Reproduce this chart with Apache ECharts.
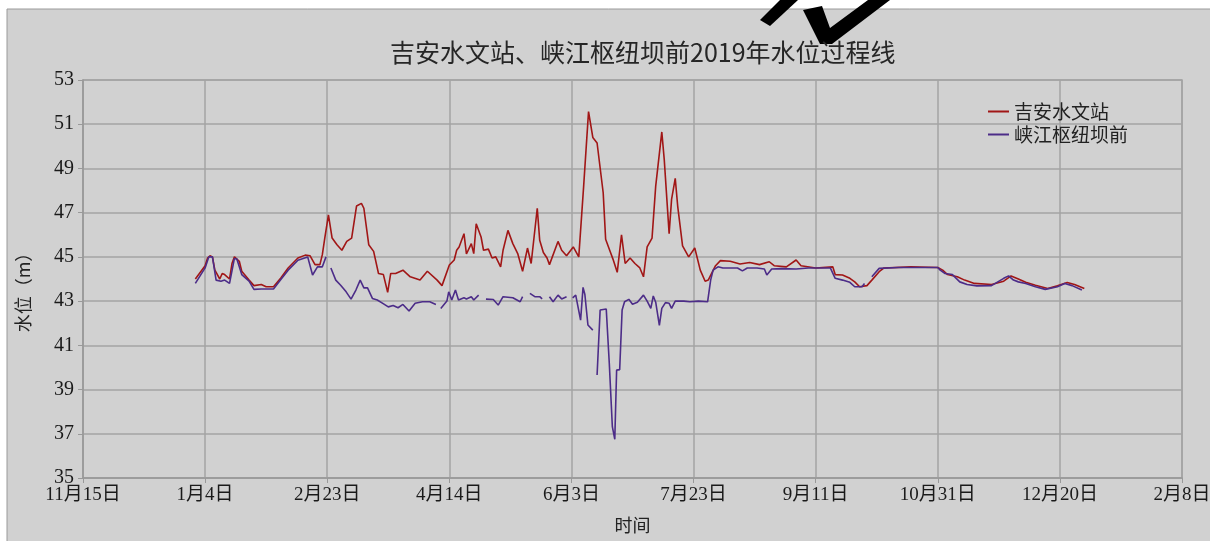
<!DOCTYPE html>
<html>
<head>
<meta charset="utf-8">
<title>水位过程线</title>
<script src="https://cdn.jsdelivr.net/npm/echarts@6/dist/echarts.min.js"></script>
<style>
  html, body { margin: 0; padding: 0; background: #d1d1d1; }
  #sw { width: 1210px; height: 541px; }
</style>
</head>
<body>
<div id="sw"></div>
<script>
// 吉安水文站 (dates, water level m)
const jiDates = ['2018-12-31','2019-01-04','2019-01-05','2019-01-06','2019-01-07','2019-01-08','2019-01-10','2019-01-11','2019-01-12','2019-01-14',
  '2019-01-15','2019-01-16','2019-01-18','2019-01-19','2019-01-22','2019-01-24','2019-01-27','2019-01-29','2019-02-01','2019-02-04',
  '2019-02-07','2019-02-11','2019-02-14','2019-02-16','2019-02-18','2019-02-20','2019-02-21','2019-02-22','2019-02-23T12','2019-02-25',
  '2019-02-27','2019-03-01','2019-03-03','2019-03-05','2019-03-07','2019-03-09','2019-03-10','2019-03-12','2019-03-14','2019-03-16',
  '2019-03-18','2019-03-19T18','2019-03-21','2019-03-23','2019-03-26','2019-03-29','2019-04-02','2019-04-05','2019-04-09','2019-04-11',
  '2019-04-14','2019-04-16','2019-04-17','2019-04-18','2019-04-20','2019-04-21','2019-04-23','2019-04-24','2019-04-25','2019-04-27',
  '2019-04-28','2019-04-30','2019-05-01T12','2019-05-03','2019-05-05','2019-05-06','2019-05-08','2019-05-10','2019-05-12','2019-05-14',
  '2019-05-16','2019-05-17T12','2019-05-20','2019-05-21','2019-05-22T12','2019-05-24','2019-05-25','2019-05-28T12','2019-05-30','2019-06-01',
  '2019-06-03T18','2019-06-06','2019-06-08','2019-06-10','2019-06-11T18','2019-06-13T12','2019-06-16','2019-06-17','2019-06-19','2019-06-20',
  '2019-06-21T18','2019-06-23T12','2019-06-25','2019-06-27','2019-06-29','2019-07-01','2019-07-02T12','2019-07-04','2019-07-06','2019-07-07T12',
  '2019-07-10','2019-07-11','2019-07-13','2019-07-14','2019-07-15T12','2019-07-16T12','2019-07-18T12','2019-07-21','2019-07-23T12','2019-07-25T18',
  '2019-07-27T18','2019-07-29','2019-08-01','2019-08-03','2019-08-07','2019-08-11','2019-08-15','2019-08-19','2019-08-23','2019-08-25',
  '2019-08-30','2019-09-03','2019-09-05','2019-09-11','2019-09-18','2019-09-19','2019-09-22','2019-09-25','2019-09-27','2019-09-29',
  '2019-10-02','2019-10-04','2019-10-07','2019-10-09','2019-10-20','2019-10-31','2019-11-02','2019-11-04','2019-11-08','2019-11-11',
  '2019-11-15','2019-11-22','2019-11-27','2019-11-30','2019-12-03','2019-12-06','2019-12-10','2019-12-15','2019-12-19','2019-12-23',
  '2019-12-26','2019-12-30']
const jiValues = [44.0,44.6,44.95,45.05,45.0,44.4,44.0,44.25,44.2,44.0,
  44.7,45.0,44.8,44.35,43.95,43.7,43.75,43.65,43.65,44.05,
  44.5,44.95,45.08,45.05,44.65,44.65,45.1,45.85,46.9,45.85,
  45.55,45.3,45.7,45.85,47.3,47.42,47.2,45.55,45.25,44.25,
  44.2,43.4,44.25,44.25,44.4,44.1,43.95,44.35,43.95,43.7,
  44.63,44.86,45.3,45.45,46.05,45.13,45.6,45.15,46.5,45.9,
  45.3,45.35,44.95,45.0,44.55,45.3,46.2,45.6,45.15,44.35,
  45.4,44.7,47.2,45.75,45.2,44.95,44.65,45.7,45.3,45.05,
  45.45,45.0,48.2,51.57,50.4,50.15,47.9,45.8,45.2,44.9,
  44.3,46.0,44.7,44.95,44.7,44.5,44.1,45.45,45.85,48.2,
  50.65,49.4,46.05,47.6,48.55,47.3,45.5,45.0,45.4,44.4,
  43.9,43.95,44.6,44.83,44.8,44.68,44.75,44.65,44.78,44.6,
  44.55,44.86,44.6,44.5,44.55,44.2,44.18,44.03,43.87,43.65,
  43.7,43.95,44.33,44.5,44.55,44.52,44.4,44.2,44.1,43.95,
  43.8,43.75,43.9,44.14,44.0,43.85,43.72,43.57,43.69,43.84,
  43.75,43.57]

// 峡江枢纽坝前 (null = missing record)
const xjDates = ['2018-12-31','2019-01-04','2019-01-05T12','2019-01-07','2019-01-08T12','2019-01-10T12','2019-01-12','2019-01-14','2019-01-16','2019-01-17',
  '2019-01-19','2019-01-22','2019-01-24','2019-01-27','2019-02-01','2019-02-04','2019-02-07','2019-02-11','2019-02-15','2019-02-17',
  '2019-02-19','2019-02-21','2019-02-22T12','2019-02-23T12','2019-02-24T12','2019-02-26T12','2019-02-28T12','2019-03-02T18','2019-03-04T18','2019-03-06T18',
  '2019-03-08T12','2019-03-10','2019-03-11T12','2019-03-13T12','2019-03-15T12','2019-03-17T18','2019-03-20','2019-03-22','2019-03-24','2019-03-26',
  '2019-03-28T12','2019-03-31','2019-04-03','2019-04-06','2019-04-08T12','2019-04-09T12','2019-04-10T12','2019-04-13','2019-04-13T18','2019-04-15',
  '2019-04-16T12','2019-04-17T18','2019-04-20','2019-04-21','2019-04-23','2019-04-24','2019-04-26','2019-04-27T12','2019-04-29','2019-05-02',
  '2019-05-04','2019-05-06','2019-05-10','2019-05-13','2019-05-14','2019-05-15T12','2019-05-17','2019-05-19','2019-05-21','2019-05-22',
  '2019-05-23T12','2019-05-25','2019-05-26T12','2019-05-28T12','2019-05-30','2019-06-01','2019-06-02','2019-06-03T12','2019-06-04T18','2019-06-06T18',
  '2019-06-07T18','2019-06-08T12','2019-06-09T18','2019-06-11T18','2019-06-12T12','2019-06-13T12','2019-06-14T18','2019-06-17T06','2019-06-18T12','2019-06-19T18',
  '2019-06-20T18','2019-06-21T12','2019-06-22T18','2019-06-23T18','2019-06-24T18','2019-06-26T12','2019-06-28','2019-06-30','2019-07-02T12','2019-07-04',
  '2019-07-05T12','2019-07-06T12','2019-07-07T12','2019-07-09','2019-07-10','2019-07-11T12','2019-07-13','2019-07-14','2019-07-15T12','2019-07-19',
  '2019-07-21T12','2019-07-25','2019-07-28T18','2019-07-30','2019-07-31','2019-08-02','2019-08-04','2019-08-10','2019-08-12','2019-08-14',
  '2019-08-18','2019-08-21','2019-08-22','2019-08-24','2019-08-28','2019-09-03','2019-09-08','2019-09-11','2019-09-17','2019-09-19',
  '2019-09-22','2019-09-25','2019-09-27','2019-09-30','2019-10-01','2019-10-02','2019-10-04','2019-10-07','2019-10-15','2019-10-31',
  '2019-11-01','2019-11-03','2019-11-06','2019-11-09','2019-11-12','2019-11-16','2019-11-22','2019-11-27','2019-11-29','2019-12-01',
  '2019-12-03','2019-12-06','2019-12-10','2019-12-14','2019-12-19','2019-12-22','2019-12-25','2019-12-29']
const xjValues = [43.8,44.5,45.0,45.0,43.95,43.9,43.95,43.8,44.93,44.9,
  44.2,43.9,43.53,43.55,43.55,43.98,44.4,44.85,45.0,44.18,
  44.55,44.55,45.0,null,44.5,43.95,43.72,43.42,43.09,43.5,
  43.95,43.6,43.6,43.12,43.05,42.9,42.74,42.8,42.7,42.85,
  42.55,42.9,42.97,42.97,42.85,null,42.67,43.0,43.42,43.05,
  43.5,43.05,43.15,43.1,43.2,43.05,43.27,null,43.09,43.07,
  42.82,43.2,43.15,42.97,43.2,null,43.35,43.2,43.2,43.1,
  null,43.2,42.97,43.27,43.1,43.2,null,43.15,43.27,42.14,
  43.62,43.3,41.92,41.69,null,39.66,42.6,42.64,40.18,37.32,
  36.75,39.88,39.9,42.6,42.97,43.08,42.86,42.95,43.27,43.0,
  42.67,43.23,42.95,41.9,42.67,42.93,42.9,42.67,43.0,43.0,
  42.97,43.0,42.97,43.95,44.4,44.55,44.5,44.5,44.37,44.5,
  44.5,44.45,44.18,44.45,44.47,44.45,44.5,44.5,44.5,44.03,
  43.95,43.85,43.65,43.65,43.8,null,44.1,44.48,44.52,44.52,
  44.4,44.25,44.2,43.87,43.75,43.69,43.7,44.03,44.14,43.95,
  43.87,43.8,43.65,43.53,43.65,43.8,43.7,43.5]

const seriesNames = ['吉安水文站', '峡江枢纽坝前']
const xMinDate = '2018-11-15'
const xMaxDate = '2020-02-08'
const xStepDays = 50
const yMin = 35
const yMax = 53
const yStep = 2

// days since 1970-01-01 (UTC), optional "Thh" part as fraction of a day
function dayNum(s) {
  const m = /(\d+)-(\d+)-(\d+)(?:T(\d+))?/.exec(s)
  const h = m[4] ? +m[4] : 0
  return Date.UTC(+m[1], +m[2] - 1, +m[3]) / 86400000 + h / 24
}
function pairUp(dates, values) {
  return dates.map((d, i) => [dayNum(d), values[i]])
}

let chart = echarts.init(document.getElementById('sw'))
const serif = "'Liberation Serif', 'Noto Sans CJK SC', serif"
const cjk = "'Noto Sans CJK SC'"

let option = {
  backgroundColor: '#d1d1d1',
  animation: false,
  title: {
    text: '吉安水文站、峡江枢纽坝前2019年水位过程线',
    left: 385,
    top: 35,
    textStyle: { fontFamily: cjk, fontSize: 25, fontWeight: 'normal', color: '#262626' }
  },
  legend: {
    orient: 'vertical',
    left: 983,
    top: 97,
    itemGap: 4,
    itemWidth: 21,
    itemHeight: 2,
    icon: 'rect',
    textStyle: { fontFamily: cjk, fontSize: 19, color: '#222' },
    data: seriesNames
  },
  grid: {
    left: 83,
    right: 28,
    top: 80,
    bottom: 63,
    outerBoundsMode: 'none',
    show: true,
    borderColor: '#a3a3a3',
    borderWidth: 1.5,
    backgroundColor: 'transparent'
  },
  xAxis: {
    type: 'value',
    min: dayNum(xMinDate),
    max: dayNum(xMaxDate),
    interval: xStepDays,
    name: '时间',
    nameLocation: 'middle',
    nameGap: 38,
    nameTextStyle: { fontFamily: cjk, fontSize: 18, color: '#222' },
    axisLine: { show: true, lineStyle: { color: '#999', width: 1.5 } },
    axisTick: { show: true, length: 5, lineStyle: { color: '#999' } },
    axisLabel: {
      fontFamily: serif,
      fontSize: 19,
      color: '#1a1a1a',
      margin: 8,
      formatter: v => {
        const d = new Date(v * 86400000)
        return (d.getUTCMonth() + 1) + '月' + d.getUTCDate() + '日'
      }
    },
    splitLine: { show: true, lineStyle: { color: '#a3a3a3', width: 1.5 } }
  },
  yAxis: {
    type: 'value',
    min: yMin,
    max: yMax,
    interval: yStep,
    name: '水位（m）',
    nameLocation: 'middle',
    nameGap: 51,
    nameTextStyle: { fontFamily: cjk, fontSize: 18, color: '#222', padding: [0, 0, 0, -18] },
    axisLine: { show: true, lineStyle: { color: '#999', width: 1.5 } },
    axisTick: { show: true, length: 5, lineStyle: { color: '#999' } },
    axisLabel: { fontFamily: serif, fontSize: 20, color: '#1a1a1a', margin: 9 },
    splitLine: { show: true, lineStyle: { color: '#a3a3a3', width: 1.5 } }
  },
  series: [
    {
      name: seriesNames[0],
      type: 'line',
      symbol: 'none',
      connectNulls: false,
      color: '#a11616',
      lineStyle: { width: 1.6, color: '#a11616' },
      data: pairUp(jiDates, jiValues)
    },
    {
      name: seriesNames[1],
      type: 'line',
      symbol: 'none',
      connectNulls: false,
      color: '#4c2c88',
      lineStyle: { width: 1.6, color: '#4c2c88' },
      data: pairUp(xjDates, xjValues)
    }
  ],
  graphic: [
    { type: 'rect', shape: { x: 0, y: 0, width: 1210, height: 9 }, style: { fill: '#fff' }, silent: true },
    { type: 'rect', shape: { x: 0, y: 0, width: 7, height: 541 }, style: { fill: '#fff' }, silent: true },
    { type: 'line', shape: { x1: 7, y1: 9, x2: 1210, y2: 9 }, style: { stroke: '#9a9a9a', lineWidth: 1 }, silent: true },
    { type: 'line', shape: { x1: 7, y1: 9, x2: 7, y2: 541 }, style: { stroke: '#9a9a9a', lineWidth: 1 }, silent: true },
    { type: 'polygon', shape: { points: [[780, 0], [798, 0], [770, 26], [760, 20]] }, style: { fill: '#000' }, silent: true },
    { type: 'polygon', shape: { points: [[803, 10], [822, 6], [830, 28], [868, 0], [890, 0], [832, 44], [820, 44]] }, style: { fill: '#000' }, silent: true }
  ]
}
chart.setOption(option)
</script>
</body>
</html>
